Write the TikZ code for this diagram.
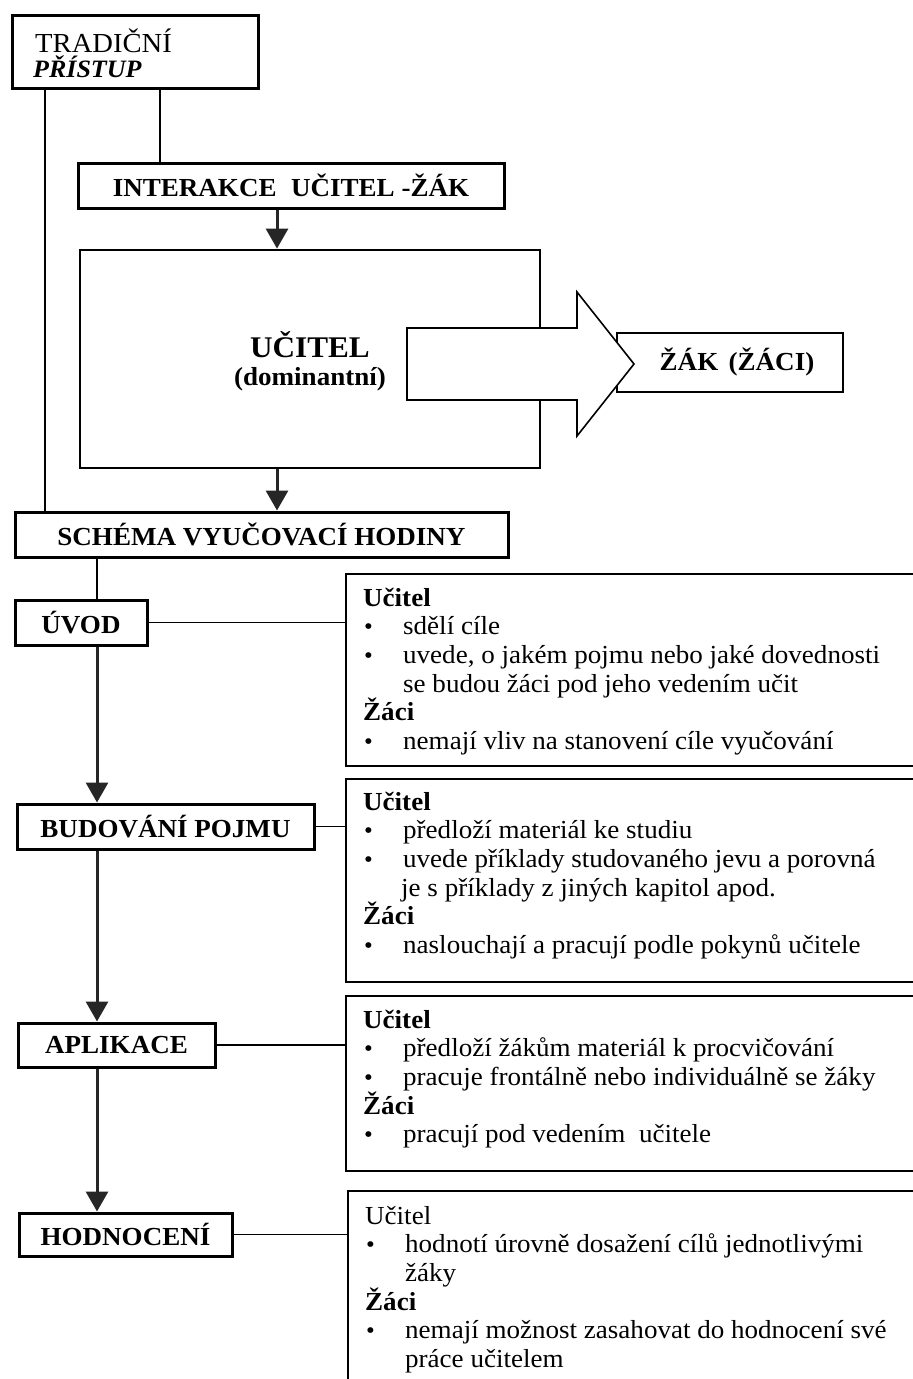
\documentclass[tikz,border=0pt]{standalone}
\usepackage{fontspec}
\setmainfont{Liberation Serif}[FakeStretch=1.04]
\usetikzlibrary{arrows.meta,calc}
\newcommand{\lblfont}{\fontsize{26}{28}\selectfont\bfseries}
\newcommand{\rtfont}{\fontsize{26}{28.7}\selectfont}
\newcommand{\bul}{\makebox[40pt][l]{\hspace{1pt}\raisebox{0pt}{\fontsize{24}{24}\selectfont\textbullet}}}
\newcommand{\ind}{\hspace*{40pt}}
\tikzset{
  lbox/.style={draw, line width=3pt, inner sep=0pt, font=\lblfont},
  rbox/.style={draw, line width=1.9pt, anchor=north west, inner sep=0pt, minimum width=580},
  rtext/.style={anchor=base west, inner sep=0pt},
  conn/.style={line width=1.5pt},
  thickconn/.style={line width=2.8pt},
  arr/.style={line width=3pt, color=black!85, -{Triangle[width=22pt,length=20pt]}}
}
\begin{document}
\begin{tikzpicture}[x=1pt,y=-1pt]
\useasboundingbox (0,0) rectangle (913,1379);
\fill[white] (0,0) rectangle (913,1379);
\coordinate (xa) at (45,0);
\coordinate (xb) at (160,0);
\coordinate (xc) at (277,0);
\coordinate (xd) at (97,0);

% top
\node[lbox, minimum width=246, minimum height=73] (trad) at (135,51.5) {};
\node[anchor=base west, inner sep=0pt, font=\fontsize{27.5}{27.5}\selectfont] (tradA) at (35,52) {TRADIČNÍ};
\node[anchor=base west, inner sep=0pt, font=\fontsize{25}{25}\selectfont\bfseries\itshape] (tradB) at (33,77) {PŘÍSTUP};

\node[lbox, minimum width=426, minimum height=45] (inter) at (291,185.5) {INTERAKCE\hspace{0.3em} UČITEL -ŽÁK};

\node[draw, line width=2.8pt, minimum width=460, minimum height=218, inner sep=0pt] (ucit) at (310,359) {};
\node[anchor=base, inner sep=0pt, font=\fontsize{30}{30}\selectfont\bfseries] (ucitA) at (310,357) {UČITEL};
\node[anchor=base, inner sep=0pt, font=\lblfont] (ucitB) at (310,385) {(dominantní)};

\node[draw, line width=2pt, minimum width=226, minimum height=59, inner sep=0pt] (zak) at (730,362.5) {};
\node[anchor=base, inner sep=0pt, font=\lblfont] (zaktxt) at (737,370) {ŽÁK\hspace{0.4em}(ŽÁCI)};

\draw[line width=1.6pt, fill=white] (407,328) -- (577,328) -- (577,292) -- (634,364) -- (577,436) -- (577,400) -- (407,400) -- cycle;

\node[lbox, minimum width=493, minimum height=45] (schema) at (261.5,534.5) {SCHÉMA VYUČOVACÍ HODINY};

% left column
\node[lbox, minimum width=132, minimum height=45] (uvod) at (81,622.5) {ÚVOD};
\node[lbox, minimum width=297, minimum height=45] (bud) at (165.5,826.5) {BUDOVÁNÍ POJMU};
\node[lbox, minimum width=197, minimum height=44] (apl) at (116.5,1045) {APLIKACE};
\node[lbox, minimum width=213, minimum height=43] (hod) at (125.5,1234.5) {HODNOCENÍ};

% right boxes
\node[rbox, minimum height=192] (r1) at (345,573) {};
\node[rbox, minimum height=203] (r2) at (345,778) {};
\node[rbox, minimum height=175] (r3) at (345,995) {};
\node[rbox, minimum height=230] (r4) at (347,1190) {};

\node[rtext] (t1) at (363,606) {\parbox[t]{540pt}{\rtfont\raggedright
\textbf{Učitel}\\
\bul sdělí cíle\\
\bul uvede, o jakém pojmu nebo jaké dovednosti\\
\ind se budou žáci pod jeho vedením učit\\
\textbf{Žáci}\\
\bul nemají vliv na stanovení cíle vyučování}};

\node[rtext] (t2) at (363,810) {\parbox[t]{540pt}{\rtfont\raggedright
\textbf{Učitel}\\
\bul předloží materiál ke studiu\\
\bul uvede příklady studovaného jevu a porovná\\
\hspace*{38pt}je s příklady z jiných kapitol apod.\\
\textbf{Žáci}\\
\bul naslouchají a pracují podle pokynů učitele}};

\node[rtext] (t3) at (363,1028) {\parbox[t]{540pt}{\rtfont\raggedright
\textbf{Učitel}\\
\bul předloží žákům materiál k procvičování\\
\bul pracuje frontálně nebo individuálně se žáky\\
\textbf{Žáci}\\
\bul pracují pod vedením\ \ učitele}};

\node[rtext] (t4) at (365,1224) {\parbox[t]{540pt}{\rtfont\raggedright
Učitel\\
\bul hodnotí úrovně dosažení cílů jednotlivými\\
\ind žáky\\
\textbf{Žáci}\\
\bul nemají možnost zasahovat do hodnocení své\\
\ind práce učitelem}};

% connectors
\draw[line width=2pt] (trad.south -| xa) -- (schema.north -| xa);
\draw[thickconn] (trad.south -| xb) -- (inter.north -| xb);
\draw[arr] (inter.south -| xc) -- (ucit.north -| xc);
\draw[arr] (ucit.south -| xc) -- (schema.north -| xc);
\draw[conn] (schema.south -| xd) -- (uvod.north -| xd);
\draw[arr] (uvod.south -| xd) -- (bud.north -| xd);
\draw[arr] (bud.south -| xd) -- (apl.north -| xd);
\draw[arr] (apl.south -| xd) -- (hod.north -| xd);
\draw[conn] (uvod.east) -- (uvod.east -| r1.west);
\draw[conn] (bud.east) -- (bud.east -| r2.west);
\draw[conn] (apl.east) -- (apl.east -| r3.west);
\draw[conn] (hod.east) -- (hod.east -| r4.west);
\end{tikzpicture}
\end{document}
